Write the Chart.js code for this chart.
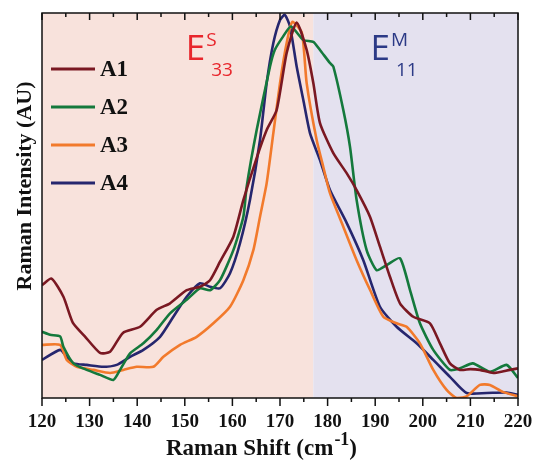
<!DOCTYPE html>
<html>
<head>
<meta charset="utf-8">
<script src="https://cdn.jsdelivr.net/npm/chart.js@4"></script>
<style>
  html, body { margin: 0; padding: 0; background: #fff; }
  #wrap { width: 535px; height: 460px; position: relative; }
</style>
</head>
<body>
<div id="wrap"><canvas id="chart"></canvas></div>
<script>
// values (x in cm-1, y normalised intensity)
const a1X = [120, 122, 124.5, 126.5, 129, 132.2, 134.3, 137, 140.6, 144.1, 146.9, 150.4, 153.2, 155.3, 157.4, 160.2, 162.3, 165, 167.2, 169.3, 171.4, 173.5, 175.6, 177, 178.4, 181.2, 184, 186.1, 188.9, 191, 193.1, 195.2, 198, 201.5, 203.6, 205.7, 207.8, 210, 212, 214.8, 218.3, 220];
const a1Y = [0.293, 0.31, 0.263, 0.195, 0.16, 0.117, 0.12, 0.169, 0.185, 0.229, 0.246, 0.28, 0.289, 0.306, 0.354, 0.419, 0.514, 0.62, 0.696, 0.748, 0.896, 0.975, 0.904, 0.818, 0.714, 0.636, 0.584, 0.54, 0.471, 0.393, 0.315, 0.246, 0.211, 0.194, 0.142, 0.09, 0.073, 0.075, 0.073, 0.065, 0.073, 0.077];

const a2X = [120, 121.7, 123.8, 124.5, 126.6, 129.4, 132.2, 135, 136.4, 138.5, 141.3, 144.1, 146.9, 150.4, 153.2, 155.3, 157.4, 160.2, 162.3, 163, 165.1, 167.9, 168.9, 170.6, 172.3, 174.9, 177, 178.4, 180.5, 181.2, 183.3, 184.7, 186.1, 188.2, 190.3, 192.4, 195.2, 197.3, 199.4, 202.2, 205.7, 207.8, 210.5, 214.1, 217.6, 220];
const a2Y = [0.172, 0.164, 0.16, 0.133, 0.09, 0.073, 0.06, 0.047, 0.073, 0.116, 0.142, 0.177, 0.22, 0.255, 0.285, 0.28, 0.306, 0.384, 0.471, 0.549, 0.696, 0.861, 0.904, 0.938, 0.965, 0.93, 0.925, 0.904, 0.87, 0.861, 0.748, 0.653, 0.514, 0.384, 0.332, 0.345, 0.363, 0.281, 0.194, 0.125, 0.073, 0.077, 0.09, 0.068, 0.086, 0.052];

const a3X = [120, 123.8, 125.2, 127.3, 130.8, 134.3, 137.1, 139.9, 143.4, 145.5, 149, 152.5, 156, 159.5, 162.3, 164.4, 165.8, 167.2, 168.6, 170, 171.4, 172.6, 174.6, 175.6, 177.7, 179.1, 180.5, 183.3, 186.1, 188.9, 191.7, 194.5, 196.6, 199.4, 202.2, 205, 207.1, 209.2, 212, 214.1, 216.8, 220];
const a3Y = [0.138, 0.138, 0.099, 0.081, 0.073, 0.065, 0.073, 0.081, 0.081, 0.107, 0.138, 0.159, 0.194, 0.237, 0.306, 0.384, 0.471, 0.558, 0.688, 0.818, 0.922, 0.977, 0.948, 0.818, 0.67, 0.6, 0.532, 0.445, 0.358, 0.281, 0.211, 0.194, 0.185, 0.142, 0.073, 0.021, 0, 0.004, 0.034, 0.034, 0.016, 0.004];

const a4X = [120, 123.8, 125.2, 126.6, 129.4, 132.9, 135.7, 138.5, 141.3, 144.8, 147.6, 150.4, 153.2, 155.3, 157.4, 159.5, 161.6, 163.7, 165.8, 167.2, 168.6, 170, 171, 172.1, 173.5, 174.9, 176.3, 178.4, 180.5, 184, 187.5, 191, 194.5, 198.7, 202.2, 205.7, 209.2, 213.4, 217.6, 220];
const a4Y = [0.099, 0.125, 0.107, 0.09, 0.086, 0.081, 0.086, 0.107, 0.125, 0.159, 0.211, 0.263, 0.298, 0.289, 0.285, 0.324, 0.402, 0.515, 0.67, 0.818, 0.922, 0.982, 0.995, 0.965, 0.861, 0.774, 0.688, 0.618, 0.54, 0.455, 0.358, 0.237, 0.185, 0.142, 0.099, 0.055, 0.013, 0.013, 0.014, 0.008];

const seriesNames = ["A1", "A2", "A3", "A4"];
const seriesColors = ["#7a1822", "#14793c", "#f27a2c", "#26266e"];
const xTickValues = [120, 130, 140, 150, 160, 170, 180, 190, 200, 210, 220];
const xTickLabels = ["120", "130", "140", "150", "160", "170", "180", "190", "200", "210", "220"];
const xMin = 120, xMax = 220, xMinorStep = 5;
const regionSplit = 177; // boundary between the two shaded regions

const pairs = (xs, ys) => xs.map((x, i) => ({ x: x, y: ys[i] }));
const allX = [a1X, a2X, a3X, a4X];
const allY = [a1Y, a2Y, a3Y, a4Y];

const serif = "'Liberation Serif', 'DejaVu Serif', serif";

// shaded backgrounds, frame, ticks, legend and labels
const decor = {
  id: "decor",
  beforeDatasetsDraw(chart) {
    const { ctx, chartArea: a, scales: { x } } = chart;
    const split = x.getPixelForValue(regionSplit);
    ctx.save();
    ctx.fillStyle = "#f8e2dc";
    ctx.fillRect(a.left, a.top, split - a.left, a.bottom - a.top);
    ctx.fillStyle = "#e4e1ef";
    ctx.fillRect(split, a.top, a.right - split, a.bottom - a.top);
    ctx.restore();
  },
  afterDraw(chart) {
    const { ctx, chartArea: a, scales: { x } } = chart;
    ctx.save();
    // frame
    ctx.strokeStyle = "#111";
    ctx.lineWidth = 1.5;
    ctx.strokeRect(a.left, a.top, a.right - a.left, a.bottom - a.top);
    // ticks: bottom outward, top inward
    for (let v = xMin; v <= xMax; v += xMinorStep) {
      const px = x.getPixelForValue(v);
      const major = xTickValues.includes(v);
      ctx.beginPath();
      ctx.moveTo(px, a.bottom);
      ctx.lineTo(px, a.bottom + (major ? 8 : 4));
      ctx.moveTo(px, a.top);
      ctx.lineTo(px, a.top + (major ? 7 : 4));
      ctx.stroke();
    }
    // tick labels
    ctx.fillStyle = "#111";
    ctx.font = "bold 19px " + serif;
    ctx.textAlign = "center";
    ctx.textBaseline = "alphabetic";
    xTickValues.forEach((v, i) => {
      ctx.fillText(xTickLabels[i], x.getPixelForValue(v), a.bottom + 29);
    });
    ctx.textAlign = "left";

    // legend
    ctx.font = "bold 23px " + serif;
    ctx.textBaseline = "middle";
    seriesNames.forEach((name, i) => {
      const y = 69 + i * 38;
      ctx.strokeStyle = seriesColors[i];
      ctx.lineWidth = 3;
      ctx.beginPath();
      ctx.moveTo(51, y);
      ctx.lineTo(95, y);
      ctx.stroke();
      ctx.fillStyle = "#111";
      ctx.fillText(name, 100, y + 1);
    });

    // region labels
    const label = (base, sup, sub, px, color) => {
      ctx.fillStyle = color;
      ctx.textBaseline = "alphabetic";
      ctx.font = "35px 'Open Sans', 'Noto Sans', sans-serif";
      ctx.fillText(base, px, 60);
      const w = ctx.measureText(base).width;
      ctx.font = "19px 'Open Sans', 'Noto Sans', sans-serif";
      ctx.fillText(sup, px + w + 1, 46);
      ctx.fillText(sub, px + w + 6, 76);
    };
    label("E", "S", "33", x.getPixelForValue(150.2), "#e8262c");
    label("E", "M", "11", x.getPixelForValue(189), "#2c3a86");

    // x title with superscript
    ctx.fillStyle = "#111";
    ctx.textBaseline = "alphabetic";
    const t1 = "Raman Shift (cm";
    const t2 = "-1";
    const t3 = ")";
    ctx.font = "bold 23px " + serif;
    const w1 = ctx.measureText(t1).width;
    ctx.font = "bold 18px " + serif;
    const w2 = ctx.measureText(t2).width;
    const start = 166;
    ctx.font = "bold 23px " + serif;
    ctx.fillText(t1, start, 455);
    ctx.fillText(t3, start + w1 + w2 + 1, 455);
    ctx.font = "bold 18px " + serif;
    ctx.fillText(t2, start + w1 + 1, 445);

    // y title
    ctx.save();
    ctx.translate(25, 186);
    ctx.rotate(-Math.PI / 2);
    ctx.font = "bold 22px " + serif;
    ctx.textAlign = "center";
    ctx.textBaseline = "middle";
    ctx.fillText("Raman Intensity (AU)", 0, 0);
    ctx.restore();

    ctx.restore();
  }
};

new Chart(document.getElementById("chart"), {
  type: "line",
  data: {
    datasets: seriesNames.map((name, i) => ({
      label: name,
      data: pairs(allX[i], allY[i]),
      borderColor: seriesColors[i],
      borderWidth: 2.6,
      pointRadius: 0,
      tension: 0.2,
      fill: false,
    })),
  },
  options: {
    responsive: true,
    maintainAspectRatio: false,
    animation: false,
    layout: { padding: { left: 42, right: 17, top: 13, bottom: 62 } },
    plugins: { legend: { display: false }, tooltip: { enabled: false } },
    scales: {
      x: { type: "linear", display: false, min: xMin, max: xMax },
      y: { display: false, min: 0, max: 1 },
    },
  },
  plugins: [decor],
});
</script>
</body>
</html>
